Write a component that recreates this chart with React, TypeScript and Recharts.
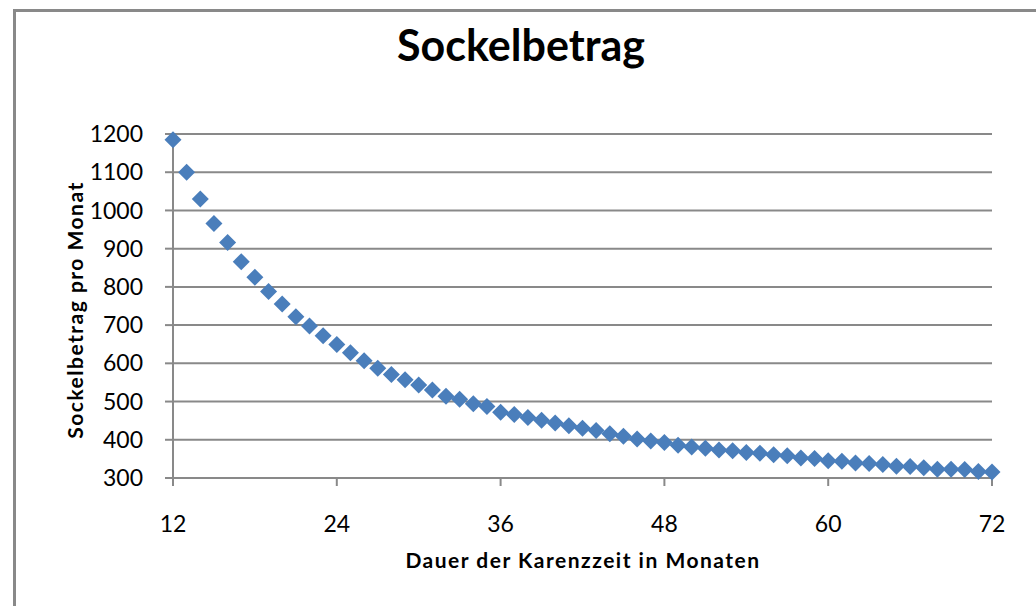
import React from 'react';
import { ScatterChart, Scatter, XAxis, YAxis, CartesianGrid } from 'recharts';

const months = [
  12, 13, 14, 15, 16, 17, 18, 19, 20, 21, 22, 23, 24, 25, 26, 27, 28, 29, 30, 31,
  32, 33, 34, 35, 36, 37, 38, 39, 40, 41, 42, 43, 44, 45, 46, 47, 48, 49, 50, 51,
  52, 53, 54, 55, 56, 57, 58, 59, 60, 61, 62, 63, 64, 65, 66, 67, 68, 69, 70, 71, 72,
];

const amounts = [
  1185, 1100, 1030, 966, 916, 866, 825, 788, 755, 722, 698, 672, 649, 628, 607, 587, 571, 557, 543, 530,
  514, 506, 494, 487, 472, 466, 458, 451, 444, 437, 430, 424, 416, 409, 402, 397, 393, 386, 381, 378,
  373, 371, 367, 365, 361, 358, 352, 351, 345, 344, 339, 338, 335, 331, 330, 327, 323, 323, 322, 317, 316,
];

const xTicks = [12, 24, 36, 48, 60, 72];
const yTicks = [300, 400, 500, 600, 700, 800, 900, 1000, 1100, 1200];

const chartData = months.map((m, i) => ({ month: m, amount: amounts[i] }));

const GRID = '#898989';
const BLUE = '#4a7ebb';
const FONT = 'Lato, "Open Sans", sans-serif';

// Excel-style diamond: a square turned by 45 degrees
const Diamond = (props: any) => {
  const { cx, cy } = props;
  if (cx == null || cy == null) return null;
  const r = 8.5;
  return (
    <path
      d={`M${cx},${cy - r} L${cx + r},${cy} L${cx},${cy + r} L${cx - r},${cy} Z`}
      fill={BLUE}
    />
  );
};

export default function App() {
  return (
    <div
      style={{
        position: 'fixed',
        left: 0,
        top: 0,
        width: 1036,
        height: 606,
        overflow: 'hidden',
        background: '#fff',
        fontFamily: FONT,
      }}
    >
      <div
        style={{
          position: 'absolute',
          left: 13,
          top: 9,
          width: 1200,
          height: 800,
          borderLeft: `3px solid ${GRID}`,
          borderTop: `3px solid ${GRID}`,
        }}
      />
      <div
        style={{
          position: 'absolute',
          left: 0,
          width: 1042,
          top: 19,
          textAlign: 'center',
          fontSize: 43,
          fontWeight: 700,
          color: '#000',
        }}
      >
        Sockelbetrag
      </div>
      <div
        style={{
          position: 'absolute',
          left: 0,
          width: 1166,
          top: 547,
          textAlign: 'center',
          fontSize: 21,
          fontWeight: 700,
          letterSpacing: 1.5,
          color: '#000',
        }}
      >
        Dauer der Karenzzeit in Monaten
      </div>
      <div
        style={{
          position: 'absolute',
          left: 74,
          top: 310,
          transform: 'translate(-50%, -50%) rotate(-90deg)',
          whiteSpace: 'nowrap',
          fontSize: 21,
          fontWeight: 700,
          letterSpacing: 1.5,
          color: '#000',
        }}
      >
        Sockelbetrag pro Monat
      </div>
      <div style={{ position: 'absolute', left: 0, top: 0 }}>
        <ScatterChart
          width={1036}
          height={606}
          margin={{ top: 134, right: 44, bottom: 68, left: 113 }}
        >
          <CartesianGrid vertical={false} stroke={GRID} strokeWidth={2} horizontalValues={yTicks} />
          <XAxis
            type="number"
            dataKey="month"
            domain={[12, 72]}
            ticks={xTicks}
            interval={0}
            height={60}
            stroke={GRID}
            strokeWidth={2}
            tickSize={8}
            tickMargin={30}
            tick={{ fill: '#000', fontSize: 23, fontFamily: FONT }}
          />
          <YAxis
            type="number"
            dataKey="amount"
            domain={[300, 1200]}
            ticks={yTicks}
            interval={0}
            width={60}
            stroke={GRID}
            strokeWidth={2}
            tickSize={8}
            tickMargin={22}
            tick={{ fill: '#000', fontSize: 23, fontFamily: FONT }}
          />
          <Scatter data={chartData} shape={<Diamond />} isAnimationActive={false} />
        </ScatterChart>
      </div>
    </div>
  );
}
